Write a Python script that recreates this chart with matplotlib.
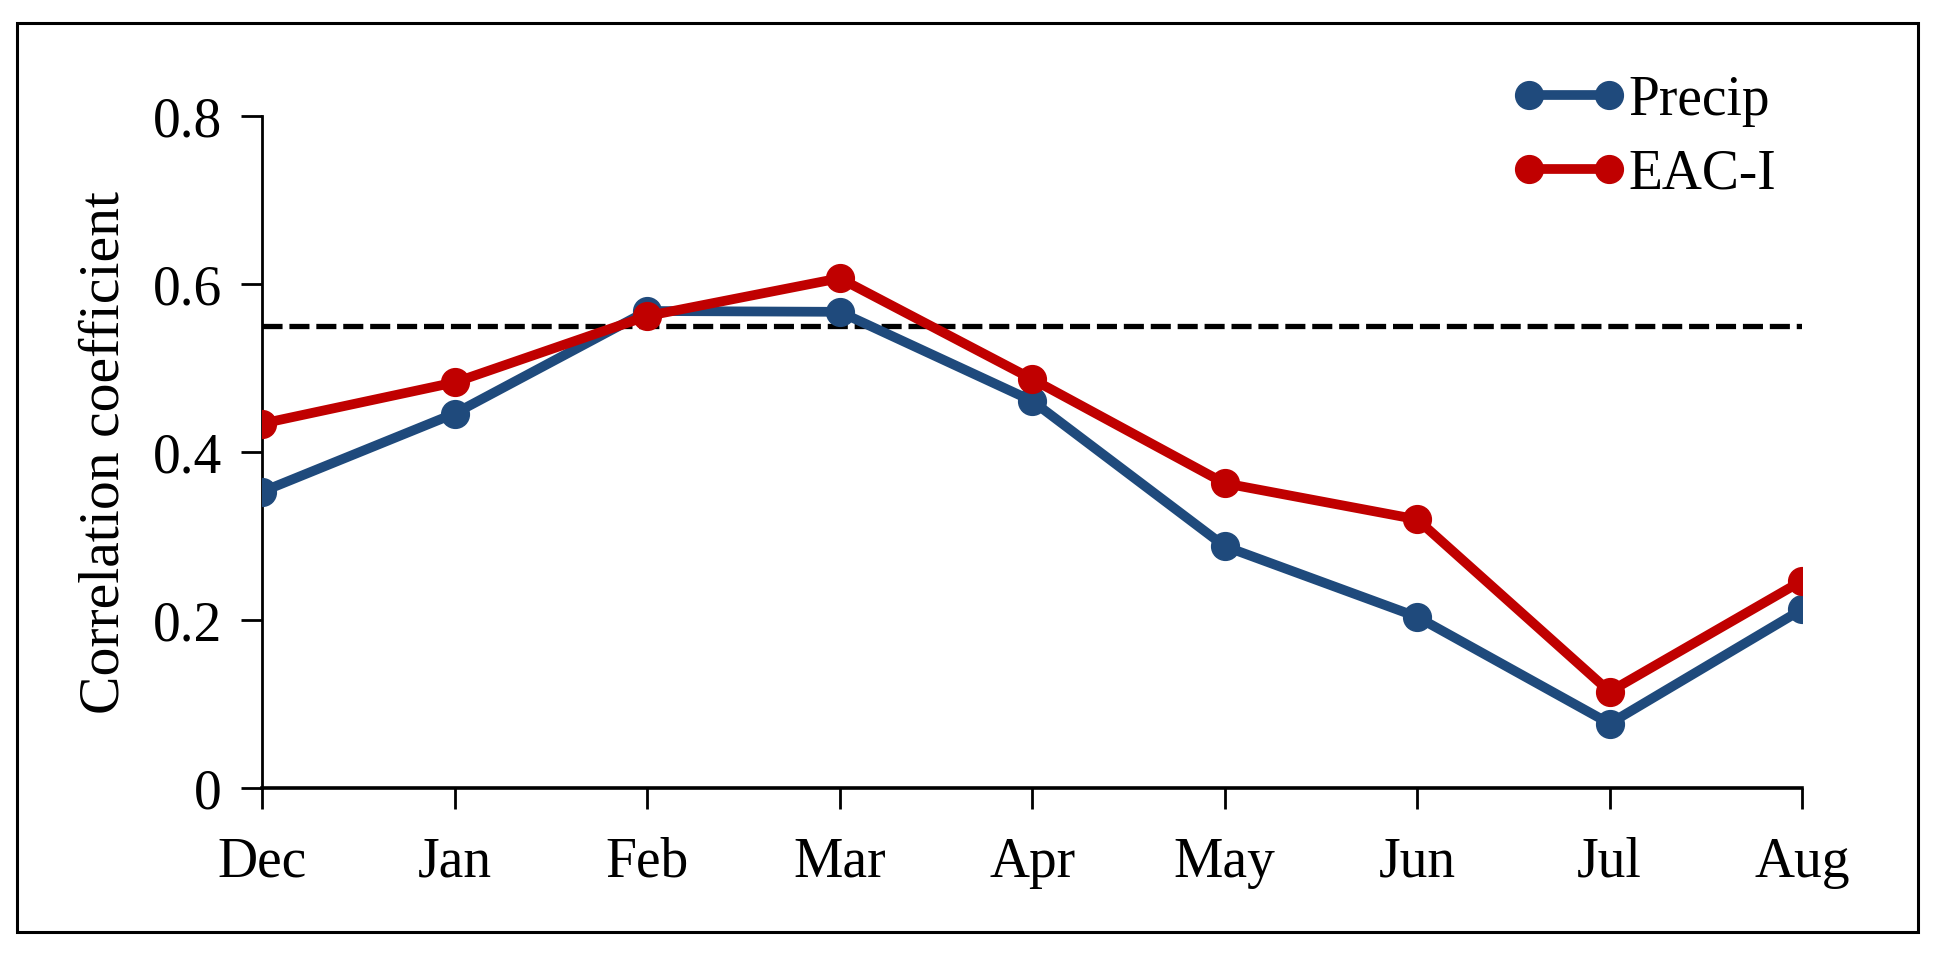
import matplotlib
matplotlib.use("Agg")
import matplotlib.pyplot as plt
from matplotlib.patches import Rectangle

months = ["Dec", "Jan", "Feb", "Mar", "Apr", "May", "Jun", "Jul", "Aug"]
precip = [0.353, 0.446, 0.568, 0.567, 0.461, 0.288, 0.204, 0.077, 0.213]
eac_i = [0.434, 0.483, 0.562, 0.607, 0.487, 0.363, 0.320, 0.115, 0.247]
threshold = 0.55

C_BLUE = "#1F4A7C"
C_RED = "#C00000"
FS = 40

plt.rcParams["font.family"] = ["Liberation Serif", "DejaVu Serif"]

fig = plt.figure(figsize=(19.42, 9.59), dpi=100)
ax = fig.add_axes([0.135, 0.178, 0.793, 0.701])

x = list(range(len(months)))
ax.plot(x, precip, color=C_BLUE, lw=7, marker="o", ms=20, label="Precip", zorder=3)
ax.plot(x, eac_i, color=C_RED, lw=7, marker="o", ms=20, label="EAC-I", zorder=4)
ax.axhline(threshold, color="black", lw=3.8, dashes=(3.8, 1.3), zorder=2)

ax.set_xlim(0, len(months) - 1)
ax.set_ylim(0, 0.8)
ax.set_xticks(x)
ax.set_xticklabels(months)
ax.set_yticks([0, 0.2, 0.4, 0.6, 0.8])
ax.set_yticklabels(["0", "0.2", "0.4", "0.6", "0.8"])
ax.tick_params(axis="both", direction="out", length=15, width=2, labelsize=FS)
ax.tick_params(axis="y", pad=14)
ax.tick_params(axis="x", pad=20)
for s in ("top", "right"):
    ax.spines[s].set_visible(False)
ax.spines["left"].set_linewidth(2)
ax.spines["bottom"].set_linewidth(2.6)
ax.set_ylabel("Correlation coefficient", fontsize=41.5, labelpad=16)

ax.legend(loc="upper left", bbox_to_anchor=(1512 / 1942, 0.922),
          bbox_transform=fig.transFigure, frameon=False, fontsize=FS,
          numpoints=2, handlelength=2.04, handletextpad=0.06,
          labelspacing=0.39, borderpad=0, borderaxespad=0)

# outer frame
fig.patches.append(Rectangle((17 / 1942, 1 - 932 / 959), (1918 - 17) / 1942,
                             (932 - 23) / 959, transform=fig.transFigure,
                             fill=False, edgecolor="black", lw=2.2))

fig.savefig("out.png", dpi=100)
